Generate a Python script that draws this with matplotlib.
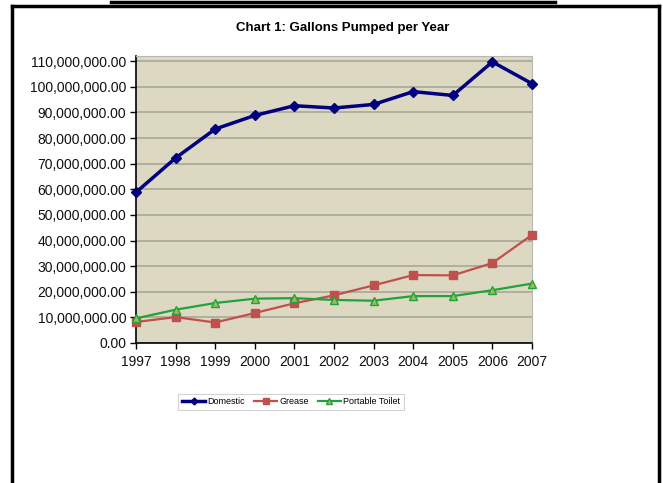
import matplotlib
matplotlib.use("Agg")
import matplotlib.pyplot as plt
from matplotlib.lines import Line2D
from matplotlib.ticker import FuncFormatter

plt.rcParams['font.family'] = ['Liberation Sans', 'DejaVu Sans']

years = [1997, 1998, 1999, 2000, 2001, 2002, 2003, 2004, 2005, 2006, 2007]
domestic = [58.8e6, 72.2e6, 83.5e6, 88.8e6, 92.6e6, 91.7e6, 93.1e6, 98.1e6, 96.6e6, 109.7e6, 101.2e6]
grease = [8.2e6, 10.1e6, 8.0e6, 11.7e6, 15.5e6, 18.6e6, 22.5e6, 26.5e6, 26.4e6, 31.2e6, 42.2e6]
portable = [9.6e6, 13.0e6, 15.6e6, 17.3e6, 17.5e6, 16.8e6, 16.5e6, 18.3e6, 18.3e6, 20.6e6, 23.2e6]
yticks = list(range(0, 110_000_001, 10_000_000))

W, H = 663, 483
fig = plt.figure(figsize=(W / 100, H / 100), dpi=100)

def fx(px):
    return px / W

def fy(py):
    return 1 - py / H

ax = fig.add_axes([fx(136), fy(343), fx(532) - fx(136), fy(56) - fy(343)])
ax.set_facecolor('#DCD8C1')

ax.plot(years, domestic, color='#000080', lw=2.5, marker='D', ms=5, mfc='#000080', mec='#000080',
        label='Domestic', zorder=5, clip_on=False)
ax.plot(years, grease, color='#C0504D', lw=1.6, marker='s', ms=5.5, mfc='#C0504D', mec='#C0504D',
        label='Grease', zorder=4, clip_on=False)
ax.plot(years, portable, color='#1FA33A', lw=1.6, marker='^', ms=6, mfc='#9BBB59', mec='#1FA33A',
        label='Portable Toilet', zorder=4, clip_on=False)

ax.set_xlim(years[0], years[-1])
ax.set_ylim(0, 112e6)
ax.set_yticks(yticks)
ax.yaxis.set_major_formatter(FuncFormatter(lambda v, p: f"{v:,.2f}"))
ax.set_xticks(years)
ax.grid(axis='y', color='#A8A898', lw=1.2)
ax.set_axisbelow(True)
ax.tick_params(axis='both', labelsize=10, colors='black', length=4, width=1, direction='out')
ax.tick_params(axis='y', pad=3)
ax.tick_params(axis='x', pad=5)
for lab in ax.get_xticklabels() + ax.get_yticklabels():
    lab.set_color('#111111')
ax.spines['left'].set_color('black')
ax.spines['bottom'].set_color('black')
ax.spines['top'].set_color('#B8B8B0')
ax.spines['right'].set_color('#B8B8B0')
ax.spines['left'].set_linewidth(1.2)
ax.spines['bottom'].set_linewidth(1.2)

fig.text(fx(343), fy(28), 'Chart 1: Gallons Pumped per Year', ha='center', va='center',
         fontsize=9.5, fontweight='bold')

leg = fig.legend(loc='center', bbox_to_anchor=(fx(291), fy(402)), ncol=3, fontsize=6.5,
                 frameon=True, fancybox=False, edgecolor='#C8C8C8', handlelength=2.6,
                 columnspacing=1.0, handletextpad=0.2, borderpad=0.4, markerscale=0.7)
leg.get_frame().set_linewidth(0.8)

# page border
fig.add_artist(Line2D([fx(12), fx(12)], [fy(6), 0], color='black', lw=2.5))
fig.add_artist(Line2D([fx(659), fx(659)], [fy(6), 0], color='black', lw=2.5))
fig.add_artist(Line2D([fx(12), fx(659)], [fy(6), fy(6)], color='black', lw=2.5))
fig.add_artist(Line2D([fx(111), fx(555)], [fy(1.5), fy(1.5)], color='black', lw=2.5))

fig.savefig('out.png', dpi=100)
